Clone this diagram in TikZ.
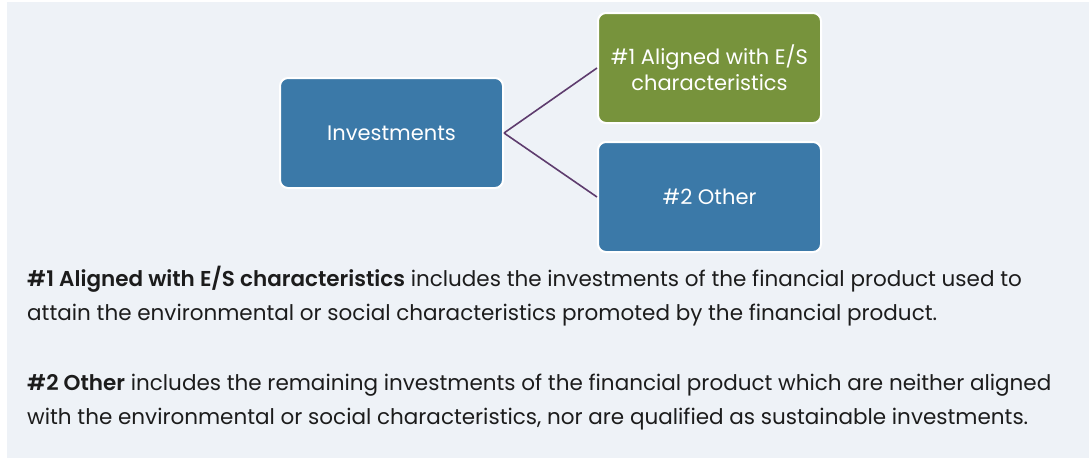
\documentclass[tikz,border=0pt]{standalone}
\usepackage{fontspec}
\setmainfont{Poppins}[BoldFont={Poppins SemiBold}]
\usepackage{xcolor}
\usetikzlibrary{positioning}

\definecolor{panelbg}{HTML}{EEF2F7}
\definecolor{boxblue}{HTML}{3B79A8}
\definecolor{boxgreen}{HTML}{77933C}
\definecolor{linkpurple}{HTML}{5E3C6E}
\definecolor{bodytext}{HTML}{1C1C1C}

\begin{document}
\begin{tikzpicture}[
  x=1pt, y=1pt,
  node distance=17pt,
  box/.style={rectangle, rounded corners=8pt, draw=white, line width=2pt, align=center, minimum width=223pt, minimum height=110pt, fill=boxblue, text=white, font=\fontsize{21}{26}\selectfont},
  link/.style={draw=linkpurple, line width=1.6pt},
  body/.style={anchor=base west, align=left, inner sep=0pt, text=bodytext, font=\fontsize{21.5}{34}\selectfont}
]
\useasboundingbox (0,0) rectangle (1089,-458);
\fill[panelbg] (7,-2) rectangle (1089,-458);

\node[box] (inv) at (391.5,-133) {Investments};
\node[box, fill=boxgreen, right=93pt of inv, yshift=65pt] (es) {\#1 Aligned with E/S\\characteristics};
\node[box, below=of es] (other) {\#2 Other};

\draw[link] (inv.east) -- (es.west);
\draw[link] (inv.east) -- (other.west);

% explanation under the chart
\node[body] (note1) at (27,-320) {\textbf{\#1 Aligned with E/S characteristics} includes the investments of the financial product used to\\attain the environmental or social characteristics promoted by the financial product.};
\node[body] (note2) at (27,-424) {\textbf{\#2 Other} includes the remaining investments of the financial product which are neither aligned\\with the environmental or social characteristics, nor are qualified as sustainable investments.};
\end{tikzpicture}
\end{document}
